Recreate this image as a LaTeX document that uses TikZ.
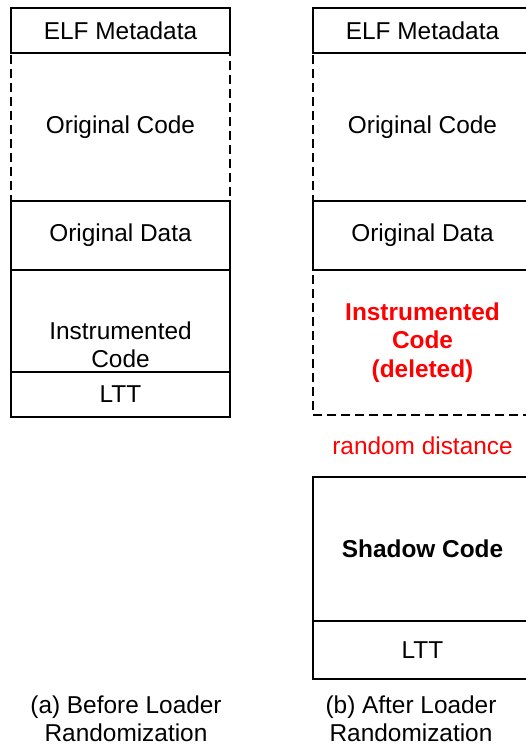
\documentclass[tikz,border=0pt]{standalone}
\usepackage{fontspec}
\setmainfont{Liberation Sans}
\usetikzlibrary{positioning,calc}
\definecolor{delred}{RGB}{255,0,0}
\tikzset{
 seg/.style={draw,line width=1.3pt,minimum width=109.5pt,inner sep=0pt,outer sep=0pt,align=center},
 hole/.style={seg,dash pattern=on 4.5pt off 2.5pt},
 gone/.style={text=delred,font=\fontsize{12.2}{14.2}\selectfont\bfseries,align=center},
}
\begin{document}
\begin{tikzpicture}[x=0.5pt,y=-0.5pt,font=\fontsize{12.2}{14.2}\selectfont]
 \useasboundingbox (0,0) rectangle (525,747);
 % (a) before
 \node[seg,minimum height=22.5pt] (elfA) at (120.5,30.5) {ELF Metadata};
 \node[hole,minimum height=74pt,below=0pt of elfA] (codeA) {Original Code};
 \node[seg,minimum height=34.5pt,below=0pt of codeA] (dataA) {Original Data};
 \node[seg,minimum height=51pt,below=0pt of dataA] (instrA) {};
 \node[seg,minimum height=22.5pt,below=0pt of instrA] (lttA) {LTT};
 \node[align=center] (instrAtxt) at ([yshift=-12pt]instrA.center) {Instrumented\\Code};
 \node[align=center] (capA) at (126,719) {(a) Before Loader\\Randomization};
 % (b) after
 \node[seg,minimum height=22.5pt] (elfB) at (422.5,30.5) {ELF Metadata};
 \node[hole,minimum height=74pt,below=0pt of elfB] (codeB) {Original Code};
 \node[seg,minimum height=34.5pt,below=0pt of codeB] (dataB) {Original Data};
 \node[hole,minimum height=72.5pt,below=0pt of dataB,gone] (instrB) {Instrumented\\Code\\(deleted)};
 \node[seg,minimum height=72pt,below=31pt of instrB,font=\fontsize{12.2}{14.2}\selectfont\bfseries] (shadowB) {Shadow Code};
 \node[seg,minimum height=29pt,below=0pt of shadowB] (lttB) {LTT};
 \node[text=delred] (distB) at ($(instrB.south)!0.5!(shadowB.north)$) {random distance};
 \node[align=center] (capB) at (411,719) {(b) After Loader\\Randomization};
\end{tikzpicture}
\end{document}
